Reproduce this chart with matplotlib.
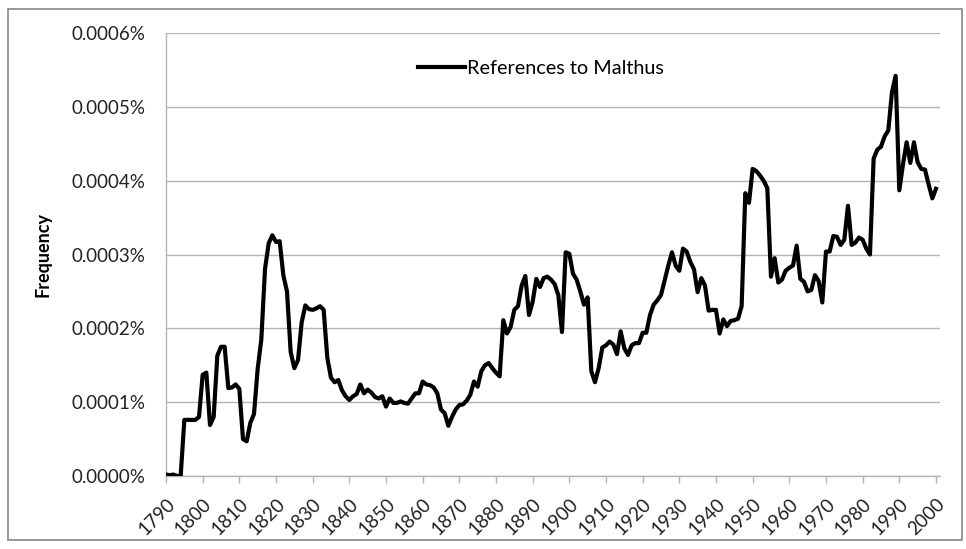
import matplotlib.pyplot as plt
import matplotlib.patches as mpatches
import numpy as np
from matplotlib.ticker import FuncFormatter

# frequency of "Malthus", in units of 0.0001 %, one value per year 1790-2000
years = list(range(1790, 2001))
freq = [
    0.02, 0.01, 0.02, 0.00, 0.00, 0.76, 0.76, 0.76, 0.76, 0.80,   # 1790s
    1.37, 1.40, 0.69, 0.80, 1.63, 1.75, 1.75, 1.19, 1.20, 1.24,   # 1800s
    1.18, 0.50, 0.47, 0.72, 0.84, 1.45, 1.85, 2.80, 3.15, 3.26,   # 1810s
    3.17, 3.18, 2.72, 2.50, 1.68, 1.46, 1.57, 2.08, 2.31, 2.26,   # 1820s
    2.25, 2.27, 2.30, 2.25, 1.60, 1.33, 1.27, 1.30, 1.16, 1.08,   # 1830s
    1.03, 1.08, 1.11, 1.24, 1.12, 1.17, 1.13, 1.07, 1.05, 1.08,   # 1840s
    0.94, 1.05, 0.99, 0.99, 1.01, 0.99, 0.98, 1.05, 1.12, 1.12,   # 1850s
    1.28, 1.24, 1.23, 1.20, 1.12, 0.90, 0.85, 0.68, 0.80, 0.90,   # 1860s
    0.96, 0.97, 1.02, 1.10, 1.28, 1.21, 1.42, 1.50, 1.53, 1.46,   # 1870s
    1.40, 1.35, 2.11, 1.93, 2.02, 2.25, 2.30, 2.58, 2.71, 2.18,   # 1880s
    2.36, 2.67, 2.56, 2.68, 2.70, 2.66, 2.60, 2.45, 1.95, 3.03,   # 1890s
    3.01, 2.74, 2.66, 2.50, 2.32, 2.42, 1.42, 1.27, 1.46, 1.74,   # 1900s
    1.77, 1.82, 1.78, 1.65, 1.96, 1.73, 1.64, 1.77, 1.80, 1.80,   # 1910s
    1.94, 1.94, 2.18, 2.32, 2.38, 2.45, 2.65, 2.85, 3.03, 2.85,   # 1920s
    2.78, 3.08, 3.04, 2.90, 2.80, 2.49, 2.68, 2.58, 2.24, 2.25,   # 1930s
    2.25, 1.93, 2.12, 2.03, 2.10, 2.11, 2.13, 2.30, 3.83, 3.70,   # 1940s
    4.16, 4.13, 4.07, 4.00, 3.90, 2.70, 2.95, 2.62, 2.66, 2.78,   # 1950s
    2.82, 2.85, 3.12, 2.67, 2.63, 2.50, 2.52, 2.72, 2.64, 2.35,   # 1960s
    3.04, 3.04, 3.25, 3.24, 3.13, 3.20, 3.66, 3.13, 3.16, 3.23,   # 1970s
    3.20, 3.08, 3.00, 4.30, 4.42, 4.46, 4.60, 4.68, 5.20, 5.42,   # 1980s
    3.87, 4.22, 4.52, 4.24, 4.52, 4.25, 4.16, 4.15, 3.95, 3.76,   # 1990s
    3.89,                                                         # 2000
]
series_label = 'References to Malthus'
ytick_vals = [0.0, 0.0001, 0.0002, 0.0003, 0.0004, 0.0005, 0.0006]
xtick_years = list(range(1790, 2001, 10))

pct = np.array(freq) * 1e-4

plt.rcParams['font.family'] = ['Lato', 'DejaVu Sans']

fig = plt.figure(figsize=(9.66, 5.49), dpi=100)
ax = fig.add_axes([166/966, 1 - 476/549, (940 - 166)/966, (476 - 33)/549])

# outer chart border
fig.patches.append(mpatches.Rectangle((8/966, 9/549), 954/966, 531/549,
                                      transform=fig.transFigure, fill=False,
                                      edgecolor='#868686', linewidth=1.2))

grid_c = '#b3b3b3'
ax.plot(years, pct, color='black', linewidth=3.0, solid_joinstyle='round',
        label=series_label, zorder=3)

ax.set_xlim(1790, 2001.1)
ax.set_ylim(0, 0.0006)
ax.set_yticks(ytick_vals)
ax.yaxis.set_major_formatter(FuncFormatter(lambda v, p: '{:.4f}%'.format(v)))
ax.set_xticks(xtick_years)
ax.set_xticklabels([str(y) for y in xtick_years], rotation=45, ha='right',
                   rotation_mode='anchor')

ax.grid(axis='y', color=grid_c, linewidth=1.0)
ax.set_axisbelow(True)
for pos in ['right', 'top']:
    ax.spines[pos].set_visible(False)
for pos in ['left', 'bottom']:
    ax.spines[pos].set_color(grid_c)
    ax.spines[pos].set_linewidth(1.0)

ax.tick_params(axis='y', length=0, pad=15, labelsize=13.5, labelcolor='#222222')
ax.tick_params(axis='x', length=5, width=1, color=grid_c, pad=9,
               labelsize=13.5, labelcolor='#222222')

ax.set_ylabel('Frequency', fontsize=13, fontweight='bold', labelpad=14)

leg = ax.legend(loc='upper left', bbox_to_anchor=(0.302, 0.98), frameon=False,
                fontsize=14.3, handlelength=2.4, handletextpad=0.1)

fig.savefig('out.png', dpi=100)
